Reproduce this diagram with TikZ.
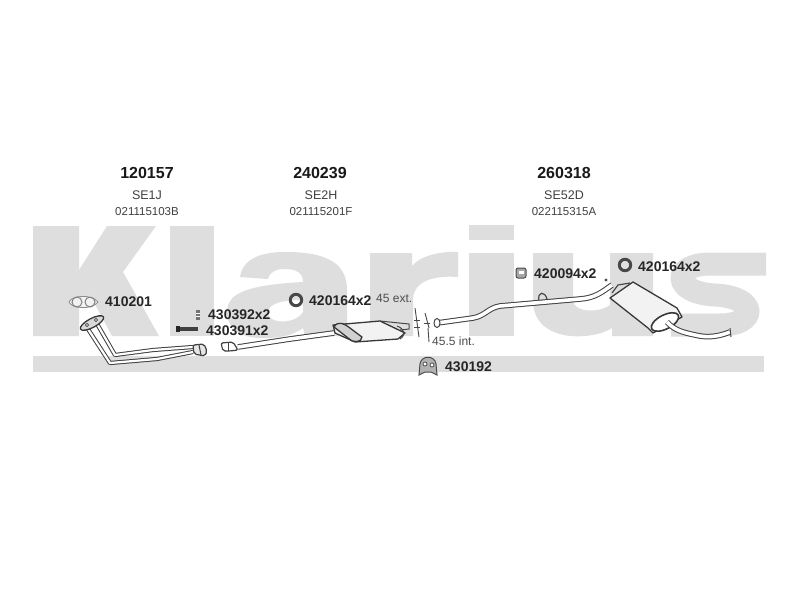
\documentclass[tikz,border=0pt]{standalone}
\usepackage{fontspec}
\setmainfont{Liberation Sans}
\begin{document}
\begin{tikzpicture}[x=1pt,y=-1pt,
  wm/.style={fill=black!13,draw=none},
  title/.style={font=\bfseries\fontsize{16}{16}\selectfont,text=black!90,inner sep=0pt},
  sub/.style={font=\fontsize{12.5}{13}\selectfont,text=black!75,inner sep=0pt},
  code/.style={font=\fontsize{11.5}{12}\selectfont,text=black!75,inner sep=0pt},
  part/.style={font=\bfseries\fontsize{14}{14}\selectfont,text=black!85,inner sep=0pt,anchor=west},
  note/.style={font=\fontsize{12}{12}\selectfont,text=black!70,inner sep=0pt,anchor=west},
  tube/.style={draw=black!75,double=white,double distance=2.2pt,line width=1pt,line cap=butt,line join=round},
  tube wide/.style={draw=black!75,double=white,double distance=3.6pt,line width=1pt,line cap=butt,line join=round},
  thin line/.style={draw=black!72,line width=.9pt},
  metal/.style={draw=black!78,fill=black!5,line width=1.3pt,line join=round},
  ring/.style={draw=black!72,line width=3pt,fill=none}]
\useasboundingbox (0,0) rectangle (800,600);
\fill[white] (0,0) rectangle (800,600);
% watermark
\fill[wm] (33,226)--(79,226)--(79,270)--(107,226)--(156,226)--(123,272)--(159,336)--(112,336)--(90,295)--(79,308)--(79,336)--(33,336)--cycle;
\fill[wm] (170,226) rectangle (214,336);
\fill[wm,even odd rule] (240,277) .. controls (243,258) and (262,252) .. (285,252) .. controls (325,252) and (347,262) .. (347,290) -- (347,336) -- (305,336) -- (303,328) .. controls (290,337) and (278,338) .. (262,338) .. controls (240,338) and (227,328) .. (227,312) .. controls (227,292) and (250,285) .. (303,282) .. controls (303,272) and (295,269) .. (285,269) .. controls (275,269) and (270,272) .. (268,279) -- cycle
 (303,300) .. controls (280,300) and (268,304) .. (268,313) .. controls (268,324) and (295,325) .. (303,312) -- cycle;
\fill[wm] (370,253)--(412,253)--(412,266) .. controls (420,256) and (440,251) .. (458,252) -- (458,277) .. controls (430,275) and (413,283) .. (413,300) -- (413,336) -- (370,336) -- cycle;
\fill[wm] (469,225) rectangle (514,240);
\fill[wm] (469,253) rectangle (514,336);
\fill[wm] (533,253)--(573,253)--(573,300) .. controls (573,313) and (600,313) .. (610,305)--(610,253)--(653,253)--(653,336)--(612,336)--(612,328) .. controls (595,340) and (533,345) .. (533,300)--cycle;
\draw[black!13,line width=23pt] (766,264)--(710,264) .. controls (672,264) and (672,293) .. (715,295) .. controls (758,297) and (758,325) .. (720,325)--(671,325);
\fill[wm] (33,356) rectangle (764,372);
% headings
\node[title] (t1) at (147,173) {120157};
\node[sub] (s1) at (147,195) {SE1J};
\node[code] (c1) at (147,212) {021115103B};
\node[title] (t2) at (320,173) {240239};
\node[sub] (s2) at (321,195) {SE2H};
\node[code] (c2) at (321,212) {021115201F};
\node[title] (t3) at (564,173) {260318};
\node[sub] (s3) at (564,195) {SE52D};
\node[code] (c3) at (564,212) {022115315A};
% gasket icon
\draw[draw=black!45,fill=black!5,line width=.8pt] (69,302) .. controls (72,295) and (92,294) .. (98,302) .. controls (92,310) and (72,309) .. (69,302) -- cycle;
\draw[black!50,line width=1pt] (77,302) circle (5) (90,302) circle (5);
\node[part] (p1) at (105,302) {410201};
% small parts
\fill[black!55] (196,310) rectangle (200,320);
\draw[white,line width=.5pt] (196,313)--(200,313) (196,316)--(200,316);
\node[part] (p2) at (208,315) {430392x2};
\fill[black!75] (176,327) rectangle (198,331);
\fill[black!85] (176,326) rectangle (180,332);
\node[part] (p3) at (206,331) {430391x2};
\draw[ring] (296,300) circle (5.7);
\node[part] (p4) at (309,301) {420164x2};
\node[note] (n1) at (376,298) {45 ext.};
\node[note] (n2) at (432,341) {45.5 int.};
\draw[thin line] (428,328) -- (429,342);
% hanger 430192
\draw[draw=black!70,fill=black!30,line width=1pt] (419,375) -- (420,364) .. controls (421,355) and (435,355) .. (436,364) -- (437,375) -- (431,372) -- (425,372) -- cycle;
\draw[black!75,fill=white,line width=.7pt] (425,364) circle (2) (432,365) circle (2);
\node[part] (p5) at (445,367) {430192};
% hanger 420094
\draw[draw=black!70,fill=black!35,line width=1pt,rounded corners=2pt] (516,268) rectangle (526,278);
\fill[white] (518.5,271) rectangle (523.5,274);
\node[part] (p6) at (534,274) {420094x2};
\draw[ring] (625,265) circle (5.7);
\node[part] (p7) at (638,267) {420164x2};
% front pipe
\draw[tube] (96,322) -- (115,355) -- (153,350) -- (193,347);
\draw[tube] (86,326) -- (110,363) -- (157,359) -- (193,352);
\draw[metal,fill=black!15,rotate around={28:(92,323)}] (92,323) ellipse (13 and 4.5);
\draw[black!75,fill=white,line width=.6pt] (87,325) circle (1.6) (96,320) circle (1.6);
% clamps
\draw[draw=black!75,fill=black!10,line width=1.2pt,rounded corners=2pt] (193,345) -- (204,344) -- (207,351) -- (205,356) -- (194,354) -- cycle;
\draw[black!75,line width=1pt] (199,345) -- (201,355);
\draw[draw=black!75,fill=white,line width=1.2pt,rounded corners=2pt] (221,343) -- (233,342) -- (238,350) -- (230,351) -- (223,351) -- cycle;
\draw[black!75,line width=1pt] (228,343) -- (228,351);
% middle pipe and muffler
\draw[tube wide] (238,347) -- (290,339) -- (334,333);
\draw[metal] (333,325) -- (380,321) -- (405,333) -- (398,339) -- (355,342) -- (335,333) -- cycle;
\draw[metal,fill=black!18] (334,327) .. controls (338,320) and (345,324) .. (350,328) -- (362,337) .. controls (362,343) and (352,343) .. (348,338) -- cycle;
\draw[black!72,line width=1pt] (380,321) -- (409,324) -- (409,329) -- (400,330);
\draw[black!72,line width=1pt] (397,326) .. controls (405,329) and (406,335) .. (400,339);
% joint marks
\draw[thin line] (415,308) -- (419,337);
\draw[thin line] (425,313) -- (429,328);
\draw[thin line] (414,320) -- (420,320) (414,327) -- (420,327);
\draw[thin line] (424,323) -- (430,323);
% rear pipe
\draw[black!72,line width=1.2pt] (539,301) .. controls (537,291) and (545,291) .. (547,299);
\draw[tube wide] (437,323) -- (473,318) .. controls (485,316) and (488,308) .. (500,306) -- (580,299) .. controls (595,298) and (602,292) .. (612,285);
\draw[draw=black!72,fill=white,line width=1pt] (437,323) ellipse (3 and 4.5);
\fill[black!70] (606,280) circle (1.7);
% rear muffler
\draw[metal] (610,298) -- (633,282) -- (677,308) -- (682,317) -- (653,333) -- (648,328) -- cycle;
\draw[black!72,line width=1.2pt] (612,293) -- (618,285) -- (630,283);
\draw[metal,fill=white,line width=1.6pt,rotate around={27:(665,322)}] (665,322) ellipse (15 and 7);
\draw[tube wide] (667,322) .. controls (675,331) and (685,333) .. (700,336) .. controls (712,338) and (722,335) .. (730,332);
\draw[black!72,line width=1pt] (730,328) -- (731,337);
\end{tikzpicture}
\end{document}
